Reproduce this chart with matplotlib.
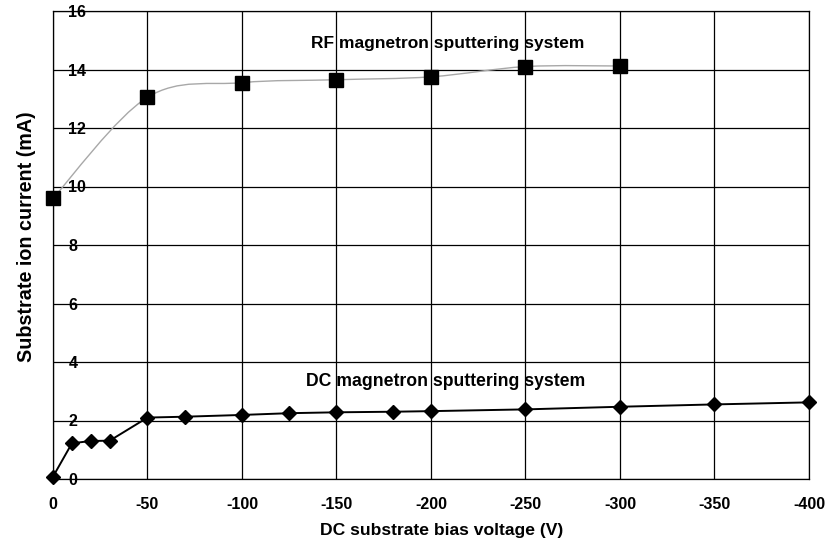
import matplotlib
matplotlib.use("Agg")
import matplotlib.pyplot as plt
from matplotlib.path import Path
from matplotlib.patches import PathPatch
import numpy as np

plt.rcParams['font.family'] = ['Liberation Sans', 'DejaVu Sans']
plt.rcParams['axes.unicode_minus'] = False

# RF magnetron sputtering system
rf_bias = [0, -50, -100, -150, -200, -250, -300]
rf_current = [9.6, 13.05, 13.55, 13.65, 13.75, 14.1, 14.12]

# DC magnetron sputtering system
dc_bias = [0, -10, -20, -30, -50, -70, -100, -125, -150, -180, -200, -250, -300, -350, -400]
dc_current = [0.08, 1.22, 1.3, 1.31, 2.1, 2.13, 2.19, 2.25, 2.28, 2.3, 2.32, 2.38, 2.47, 2.55, 2.62]

x_ticks = [0, -50, -100, -150, -200, -250, -300, -350, -400]
y_ticks = [0, 2, 4, 6, 8, 10, 12, 14, 16]

fig = plt.figure(figsize=(8.28, 5.48), dpi=100)
ax = fig.add_axes([53/828, 69/548, (809-53)/828, (479-11)/548])

ax.set_xlim(0, -400)
ax.set_ylim(0, 16)
ax.set_xticks(x_ticks)
ax.set_yticks(y_ticks)
ax.set_xticklabels([str(v) for v in x_ticks], fontweight='bold', fontsize=11.5)
ax.set_yticklabels([str(v) for v in y_ticks], fontweight='bold', fontsize=11.5)
for lab in ax.get_yticklabels():
    lab.set_horizontalalignment('left')
ax.tick_params(axis='y', length=0, pad=-11)
ax.tick_params(axis='x', length=0, pad=13)
ax.grid(True, color='black', linewidth=0.9)
ax.set_axisbelow(True)
for s in ax.spines.values():
    s.set_linewidth(0.9)

# smooth RF curve (Catmull-Rom style Bezier through the data points)
xs = np.array(rf_bias, float)
ys = np.array(rf_current, float)
verts = [(xs[0], ys[0])]
codes = [Path.MOVETO]
n = len(xs)
for i in range(n - 1):
    p0 = np.array([xs[max(i-1, 0)], ys[max(i-1, 0)]])
    p1 = np.array([xs[i], ys[i]])
    p2 = np.array([xs[i+1], ys[i+1]])
    p3 = np.array([xs[min(i+2, n-1)], ys[min(i+2, n-1)]])
    c1 = p1 + (p2 - p0) / 6.0
    c2 = p2 - (p3 - p1) / 6.0
    verts += [tuple(c1), tuple(c2), tuple(p2)]
    codes += [Path.CURVE4] * 3
ax.add_patch(PathPatch(Path(verts, codes), facecolor='none', edgecolor='#a8a8a8', linewidth=1.0, zorder=3))
ax.plot(rf_bias, rf_current, linestyle='none', marker='s', markersize=9.5, color='black', zorder=4, clip_on=False)

ax.plot(dc_bias, dc_current, color='black', linewidth=1.4, marker='D', markersize=7.5, zorder=4, clip_on=False)

ax.text(-209, 14.9, 'RF magnetron sputtering system', fontsize=12.5, fontweight='bold', ha='center', va='center')
ax.text(-208, 3.32, 'DC magnetron sputtering system', fontsize=12.7, fontweight='bold', ha='center', va='center')

fig.text(442/828, 1 - 531/548, 'DC substrate bias voltage (V)', fontsize=12.6, fontweight='bold', ha='center', va='center')
fig.text(27/828, 1 - 237/548, 'Substrate ion current (mA)', fontsize=14.2, fontweight='bold', ha='center', va='center', rotation=90)

fig.savefig('out.png', dpi=100)
